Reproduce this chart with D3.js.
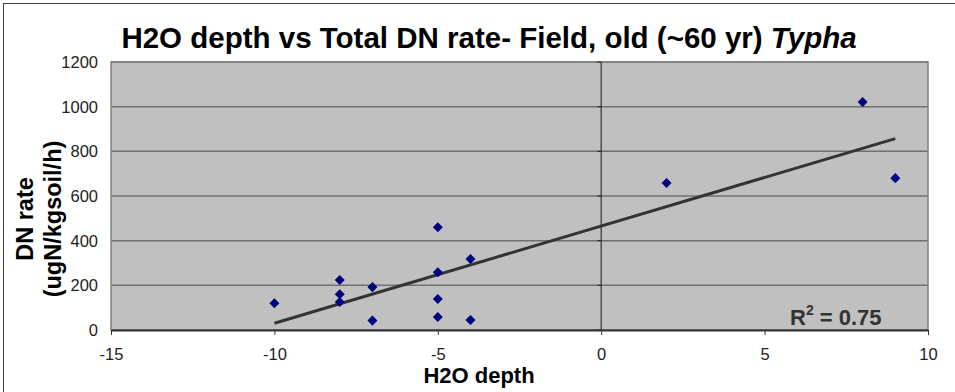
<!DOCTYPE html>
<html>
<head>
<meta charset="utf-8">
<script src="https://cdn.jsdelivr.net/npm/d3@7"></script>
<style>
  body { margin: 0; background: #fff; }
  svg { display: block; font-family: "Liberation Sans", Arial, sans-serif; }
</style>
</head>
<body>
<div id="chart"></div>
<script>
// H2O depth (cm) and total DN rate (ugN/kgsoil/h)
var depth  = [-10, -8, -8, -8, -7, -7, -5, -5, -5, -5, -4, -4, 2, 8, 9];
var dnRate = [120, 224, 160, 125, 192, 42, 460, 259, 139, 58, 318, 45, 658, 1021, 680];
var xTicks = [-15, -10, -5, 0, 5, 10];
var yTicks = [0, 200, 400, 600, 800, 1000, 1200];

var W = 955, H = 392;
var margin = { top: 62, right: 27, bottom: 62, left: 111 },
    width = W - margin.left - margin.right,
    height = H - margin.top - margin.bottom;

var svg = d3.select("#chart").append("svg")
    .attr("width", W)
    .attr("height", H);

// outer chart border (only top/left visible)
svg.append("rect")
    .attr("x", 3.5).attr("y", 3.5)
    .attr("width", W + 10).attr("height", H + 10)
    .attr("fill", "none").attr("stroke", "#444").attr("stroke-width", 1);

var x = d3.scaleLinear().domain([-15, 10]).range([0, width]);
var y = d3.scaleLinear().domain([0, 1200]).range([height, 0]);

var g = svg.append("g")
    .attr("transform", "translate(" + margin.left + "," + margin.top + ")");

// plot area
g.append("rect")
    .attr("width", width).attr("height", height)
    .attr("fill", "#c0c0c0");

// horizontal gridlines
g.selectAll(".grid")
    .data(yTicks)
    .enter().append("line")
    .attr("class", "grid")
    .attr("x1", 0).attr("x2", width)
    .attr("y1", function (d) { return y(d); })
    .attr("y2", function (d) { return y(d); })
    .attr("stroke", "#707070").attr("stroke-width", 1.5);

// plot border
g.append("rect")
    .attr("width", width).attr("height", height)
    .attr("fill", "none").attr("stroke", "#808080").attr("stroke-width", 1.5);

// vertical axis at x = 0
g.append("line")
    .attr("x1", x(0)).attr("x2", x(0))
    .attr("y1", 0).attr("y2", height)
    .attr("stroke", "#333").attr("stroke-width", 1.2);
g.selectAll(".ytick")
    .data(yTicks)
    .enter().append("line")
    .attr("x1", x(0) - 4).attr("x2", x(0))
    .attr("y1", function (d) { return y(d); })
    .attr("y2", function (d) { return y(d); })
    .attr("stroke", "#333").attr("stroke-width", 1.2);

// y tick labels (low position)
g.selectAll(".ylab")
    .data(yTicks)
    .enter().append("text")
    .attr("x", -13)
    .attr("y", function (d) { return y(d) + 6; })
    .attr("text-anchor", "end")
    .attr("font-size", 16.5)
    .attr("fill", "#222")
    .text(function (d) { return d; });

// x axis
var xAxis = g.append("g")
    .attr("transform", "translate(0," + height + ")")
    .call(d3.axisBottom(x).tickValues(xTicks).tickFormat(function (d) { return String(d); })
        .tickSize(5).tickSizeOuter(0).tickPadding(13));
xAxis.select(".domain").attr("stroke", "#333").attr("stroke-width", 2);
xAxis.selectAll(".tick line").attr("stroke", "#333");
xAxis.selectAll("text")
    .attr("font-size", 16.5)
    .attr("fill", "#222")
    .attr("font-family", "Liberation Sans, Arial, sans-serif");

// linear trendline from least squares
var mx = d3.mean(depth), my = d3.mean(dnRate);
var sxy = d3.sum(depth, function (d, i) { return (d - mx) * (dnRate[i] - my); });
var sxx = d3.sum(depth, function (d) { return (d - mx) * (d - mx); });
var slope = sxy / sxx, icpt = my - slope * mx;
var xExt = d3.extent(depth);
g.append("line")
    .attr("x1", x(xExt[0])).attr("y1", y(icpt + slope * xExt[0]))
    .attr("x2", x(xExt[1])).attr("y2", y(icpt + slope * xExt[1]))
    .attr("stroke", "#333").attr("stroke-width", 3);

// points
var diamond = d3.symbol().type(d3.symbolDiamond2).size(64);
g.selectAll(".pt")
    .data(depth)
    .enter().append("path")
    .attr("class", "pt")
    .attr("transform", function (d, i) { return "translate(" + x(d) + "," + y(dnRate[i]) + ")"; })
    .attr("d", diamond)
    .attr("fill", "#000080");

// R^2 label
var r2 = g.append("text")
    .attr("x", 679).attr("y", height - 5)
    .attr("font-size", 22).attr("font-weight", "bold")
    .attr("fill", "#333");
r2.append("tspan").text("R");
r2.append("tspan").attr("dy", -10).attr("font-size", 14).text("2");
r2.append("tspan").attr("dy", 10).text(" = 0.75");

// title
var title = svg.append("text")
    .attr("x", 489).attr("y", 48)
    .attr("text-anchor", "middle")
    .attr("font-size", 29.5).attr("font-weight", "bold")
    .attr("fill", "#000");
title.append("tspan").text("H2O depth vs Total DN rate- Field, old (~60 yr) ");
title.append("tspan").attr("font-style", "italic").text("Typha");

// axis titles
svg.append("text")
    .attr("x", 479).attr("y", 383)
    .attr("text-anchor", "middle")
    .attr("font-size", 22).attr("font-weight", "bold")
    .text("H2O depth");

var yt = svg.append("text")
    .attr("transform", "translate(33,219) rotate(-90)")
    .attr("text-anchor", "middle")
    .attr("font-size", 23.5).attr("font-weight", "bold");
yt.append("tspan").attr("x", 0).attr("dy", 0).text("DN rate");
yt.append("tspan").attr("x", 0).attr("dy", 28).text("(ugN/kgsoil/h)");
</script>
</body>
</html>
